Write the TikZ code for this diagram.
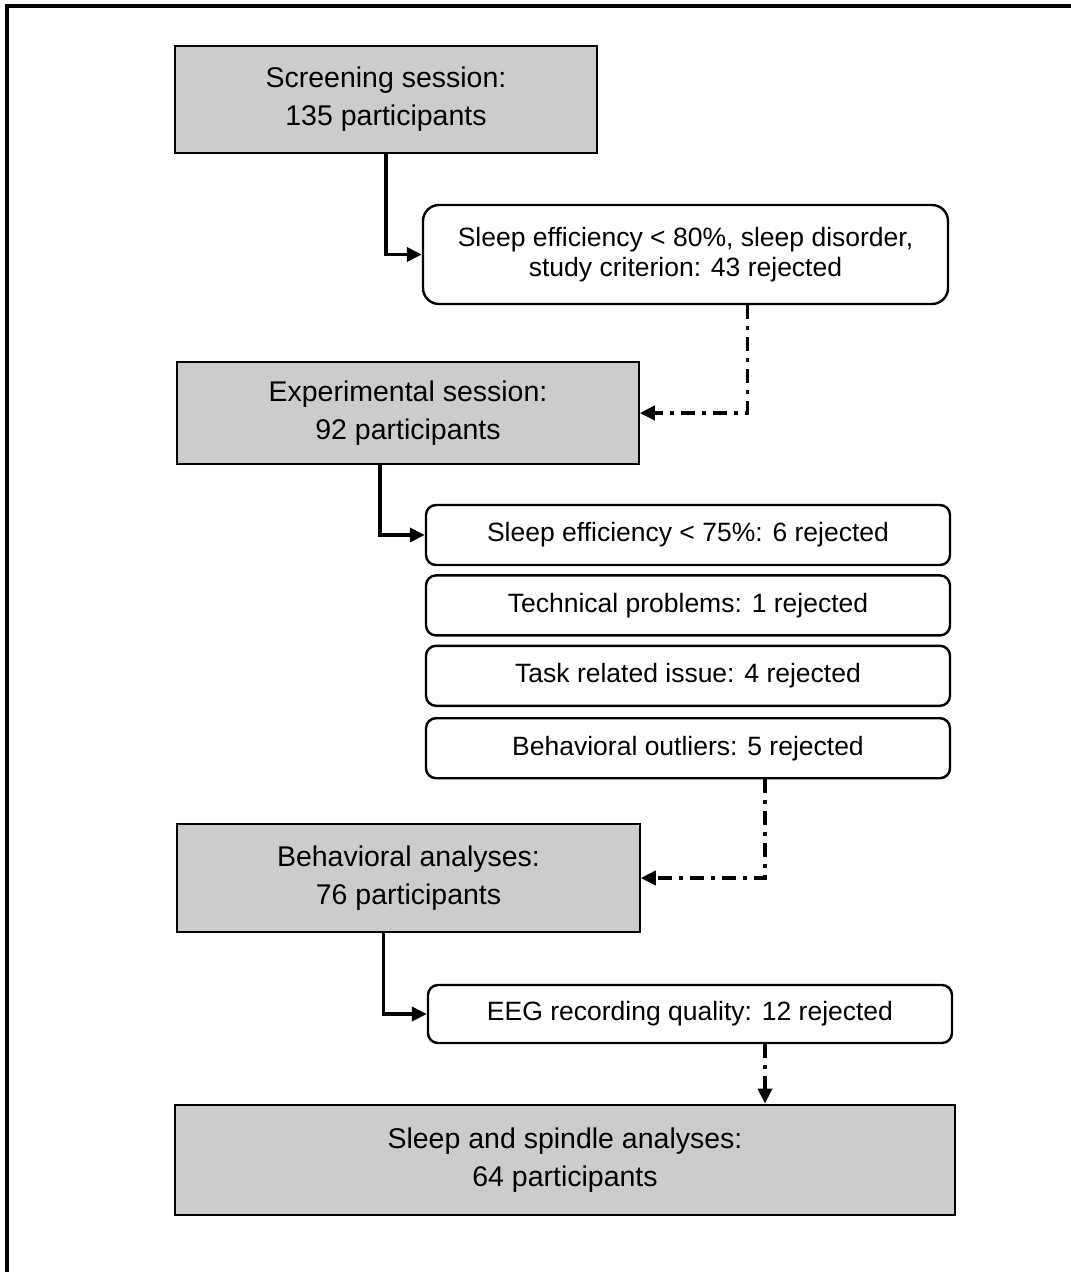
\documentclass[tikz,border=0pt]{standalone}
\usepackage{fontspec}
\setmainfont{Liberation Sans}
\usepackage{tikz}
\usetikzlibrary{arrows.meta,positioning}
\definecolor{boxgray}{RGB}{204,204,204}

\begin{document}
\begin{tikzpicture}[x=1pt,y=-1pt,
  node distance=8pt,
  stage/.style={rectangle,draw,line width=1.5pt,fill=boxgray,align=center,
    inner sep=0pt,font=\fontsize{28.5}{38}\selectfont},
  reject/.style={rectangle,rounded corners=10pt,draw,line width=2.4pt,fill=white,
    align=center,inner sep=0pt,minimum width=524pt,minimum height=60pt,
    font=\fontsize{26.5}{30}\selectfont},
  flow/.style={-{Triangle[length=15pt,width=14pt]},line width=3.6pt},
  backflow/.style={flow,dash pattern=on 14pt off 7pt on 4pt off 7pt}
]
\useasboundingbox (0,0) rectangle (1071,1272);
\draw[line width=3.2pt] (7,1272) -- (7,6) -- (1071,6);

\node[stage,minimum width=422pt,minimum height=107pt] (screen) at (386,99.5) {Screening session:\\135 participants};
\node[reject,rounded corners=16pt,minimum width=525pt,minimum height=99pt] (excl) at (685.5,254.5) {Sleep efficiency < 80\%, sleep disorder,\\study criterion: 43 rejected};
\node[stage,minimum width=462pt,minimum height=102pt] (exper) at (408,413) {Experimental session:\\92 participants};
\node[reject] (tsleep) at (688,535) {Sleep efficiency < 75\%: 6 rejected};
\node[reject,below=of tsleep] (ttech) {Technical problems: 1 rejected};
\node[reject,below=of ttech] (ttask) {Task related issue: 4 rejected};
\node[reject,below=10pt of ttask] (tbeh) {Behavioral outliers: 5 rejected};
\node[stage,minimum width=463pt,minimum height=108pt] (behav) at (408.5,878) {Behavioral analyses:\\76 participants};
\node[reject,minimum height=58pt] (eeg) at (690,1014) {EEG recording quality: 12 rejected};
\node[stage,line width=2.8pt,minimum width=780pt,minimum height=110pt] (final) at (565,1160) {Sleep and spindle analyses:\\64 participants};

\draw[flow] (screen.south) |- (excl.west);
\draw[backflow] ([xshift=62pt]excl.south) |- (exper.east);
\draw[flow] ([xshift=-28pt]exper.south) |- (tsleep.west);
\draw[backflow] ([xshift=77pt]tbeh.south) |- (behav.east);
\draw[flow] ([xshift=-25pt]behav.south) |- (eeg.west);
\draw[backflow] ([xshift=75pt]eeg.south) -- ([xshift=75pt]eeg.south |- final.north);
\end{tikzpicture}
\end{document}
